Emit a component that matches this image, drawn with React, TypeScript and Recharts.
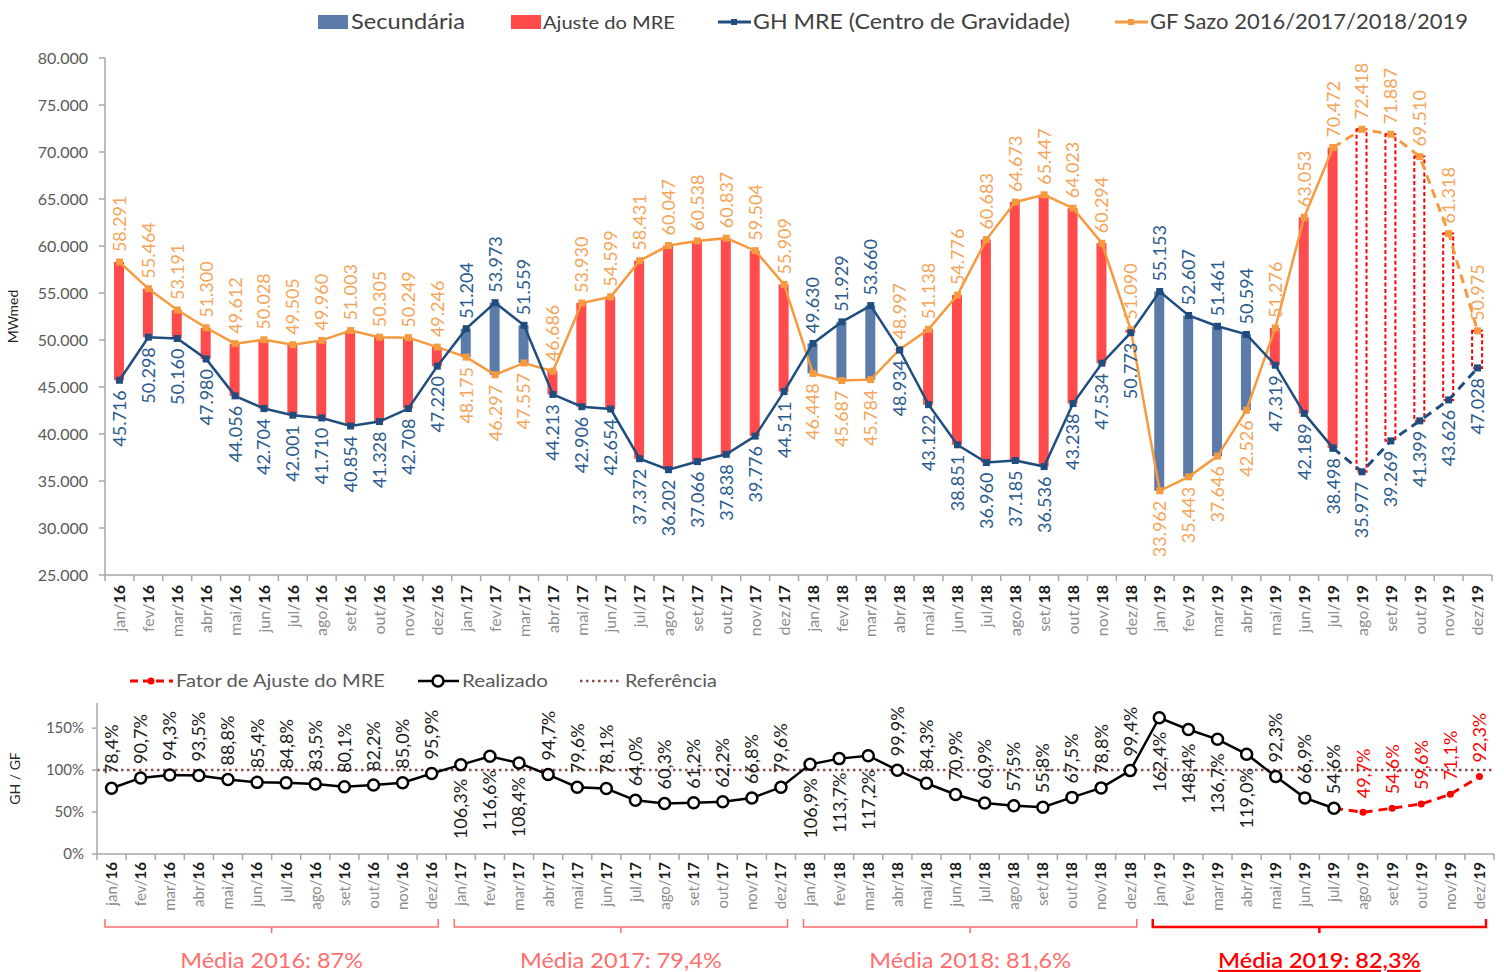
import React from 'react';
import { ComposedChart, Bar, Line, XAxis, YAxis, Cell, ReferenceLine } from 'recharts';

// ---------- DATA ----------
const monthNames = ['jan', 'fev', 'mar', 'abr', 'mai', 'jun', 'jul', 'ago', 'set', 'out', 'nov', 'dez'];
const yearShort = ['16', '17', '18', '19'];
const yearFull = ['2016', '2017', '2018', '2019'];
const yearMeans = ['87%', '79,4%', '81,6%', '82,3%'];

// GH MRE (Centro de Gravidade), MWmed
const ghMre = [
  45716, 50298, 50160, 47980, 44056, 42704, 42001, 41710, 40854, 41328, 42708, 47220,
  51204, 53973, 51559, 44213, 42906, 42654, 37372, 36202, 37066, 37838, 39776, 44511,
  49630, 51929, 53660, 48934, 43122, 38851, 36960, 37185, 36536, 43238, 47534, 50773,
  55153, 52607, 51461, 50594, 47319, 42189, 38498, 35977, 39269, 41399, 43626, 47028,
];
// GF Sazo 2016/2017/2018/2019, MWmed
const gfSazo = [
  58291, 55464, 53191, 51300, 49612, 50028, 49505, 49960, 51003, 50305, 50249, 49246,
  48175, 46297, 47557, 46686, 53930, 54599, 58431, 60047, 60538, 60837, 59504, 55909,
  46448, 45687, 45784, 48997, 51138, 54776, 60683, 64673, 65447, 64023, 60294, 51090,
  33962, 35443, 37646, 42526, 51276, 63053, 70472, 72418, 71887, 69510, 61318, 50975,
];
// Realizado GH/GF (%), jan/16 .. jul/19
const realizado = [
  78.4, 90.7, 94.3, 93.5, 88.8, 85.4, 84.8, 83.5, 80.1, 82.2, 85.0, 95.9,
  106.3, 116.6, 108.4, 94.7, 79.6, 78.1, 64.0, 60.3, 61.2, 62.2, 66.8, 79.6,
  106.9, 113.7, 117.2, 99.9, 84.3, 70.9, 60.9, 57.5, 55.8, 67.5, 78.8, 99.4,
  162.4, 148.4, 136.7, 119.0, 92.3, 66.9, 54.6,
];
// Fator de Ajuste do MRE (%), ago/19 .. dez/19
const fatorAjuste = [49.7, 54.6, 59.6, 71.1, 92.3];

const yTicksTop = [25000, 30000, 35000, 40000, 45000, 50000, 55000, 60000, 65000, 70000, 75000, 80000];
const yTicksBottom = [0, 50, 100, 150];

// ---------- STYLE ----------
const SEC = '#5b7ba8';
const AJ = '#ff4b4b';
const GH_C = '#1f4e7e';
const GH_L = '#2b5a8e';
const GF_C = '#f59a3e';
const GF_L = '#f5a55a';
const AXIS = '#a6a6a6';
const FONT = "Lato, 'Open Sans', sans-serif";

const FC_START = realizado.length; // index of ago/19

const fmtMW = (v: number) => `${Math.floor(v / 1000)}.${String(v % 1000).padStart(3, '0')}`;
const fmtPct = (v: number) => v.toFixed(1).replace('.', ',') + '%';

const topData = ghMre.map((gh, i) => {
  const gf = gfSazo[i];
  const fc = i >= FC_START;
  return {
    label: `${monthNames[i % 12]}/${yearShort[Math.floor(i / 12)]}`,
    range: [Math.min(gh, gf), Math.max(gh, gf)],
    kind: fc ? 'fc' : gh > gf ? 'sec' : 'aj',
    ghReal: i <= FC_START - 1 ? gh : null,
    ghFc: i >= FC_START - 1 ? gh : null,
    gfReal: i <= FC_START - 1 ? gf : null,
    gfFc: i >= FC_START - 1 ? gf : null,
  };
});

const bottomData = ghMre.map((_, i) => ({
  label: `${monthNames[i % 12]}/${yearShort[Math.floor(i / 12)]}`,
  year: yearFull[Math.floor(i / 12)],
  real: i < FC_START ? realizado[i] : null,
  fc: i >= FC_START ? fatorAjuste[i - FC_START] : i === FC_START - 1 ? realizado[i] : null,
}));

// ---------- RENDER HELPERS ----------
const makeMonthTick = (fontSize: number, lastIndex: number, textGap: number) => (p: any) => {
  const { x, y, payload, index } = p;
  const off = payload && payload.offset != null ? payload.offset : 14.5;
  const axisY = y - 8;
  const parts = String(payload.value).split('/');
  const ty = y + textGap;
  return (
    <g>
      <line x1={x - off} y1={axisY} x2={x - off} y2={axisY + 6} stroke={AXIS} strokeWidth={1.5} />
      {index === lastIndex && (
        <line x1={x + off} y1={axisY} x2={x + off} y2={axisY + 6} stroke={AXIS} strokeWidth={1.5} />
      )}
      <text
        x={x}
        y={ty}
        dy="0.36em"
        transform={`rotate(-90 ${x} ${ty})`}
        textAnchor="end"
        fontSize={fontSize}
        fill="#8c8c8c"
      >
        {parts[0] + '/'}
        <tspan fill="#1a1a1a" fontWeight={700}>{parts[1]}</tspan>
      </text>
    </g>
  );
};

const SquareDot = (color: string, size: number) => (p: any) => {
  const { cx, cy, value, index } = p;
  if (value == null || cx == null || cy == null) return <g key={`d${index}`} />;
  return <rect key={`d${index}`} x={cx - size / 2} y={cy - size / 2} width={size} height={size} fill={color} />;
};

const makeTopLabel = (self: number[], other: number[], color: string, skip: (i: number) => boolean) => (p: any) => {
  const { x, y, value, index } = p;
  if (value == null || x == null || y == null || skip(index)) return <g />;
  const above = self[index] >= other[index];
  const ay = above ? y - 10 : y + 10;
  return (
    <text
      x={x}
      y={ay}
      dy="0.36em"
      transform={`rotate(-90 ${x} ${ay})`}
      textAnchor={above ? 'start' : 'end'}
      fontSize={18}
      fill={color}
    >
      {fmtMW(value)}
    </text>
  );
};

const makePctLabel = (color: string, skip: (i: number) => boolean) => (p: any) => {
  const { x, y, value, index } = p;
  if (value == null || x == null || y == null || skip(index)) return <g />;
  const above = value <= 100;
  const ay = above ? y - 14 : y + 14;
  return (
    <text
      x={x}
      y={ay}
      dy="0.36em"
      transform={`rotate(-90 ${x} ${ay})`}
      textAnchor={above ? 'start' : 'end'}
      fontSize={18}
      fill={color}
    >
      {fmtPct(value)}
    </text>
  );
};

const YearTick = (p: any) => {
  const { x, y, payload } = p;
  const yi = yearFull.indexOf(String(payload.value));
  const half = payload && payload.offset != null ? payload.offset : 174;
  const is19 = yi === 3;
  const color = is19 ? '#ff0000' : '#ff6e6e';
  const x1 = x - half + 8;
  const x2 = x + half - 8;
  const by = y + 11;
  const ty = y + 52;
  return (
    <g>
      <path
        d={`M${x1} ${by - 8} L${x1} ${by} L${x2} ${by} L${x2} ${by - 8} M${x} ${by} L${x} ${by + 6}`}
        fill="none"
        stroke={color}
        strokeWidth={is19 ? 2.5 : 1.5}
      />
      <text
        x={x}
        y={ty}
        textAnchor="middle"
        fontSize={21}
        fill={color}
        textDecoration={is19 ? 'underline' : undefined}
        fontWeight={is19 ? 600 : 400}
        transform={`translate(${x} 0) scale(1.12 1) translate(${-x} 0)`}
      >
        {`Média ${payload.value}: ${yearMeans[yi]}`}
      </text>
    </g>
  );
};

const axisLabel = (text: string, dx: number) => (props: any) => {
  const vb = props.viewBox || { x: 0, y: 0, width: 0, height: 0 };
  const cx = vb.x + dx;
  const cy = vb.y + vb.height / 2;
  return (
    <text x={cx} y={cy} transform={`rotate(-90 ${cx} ${cy})`} textAnchor="middle" fontSize={14} fill="#262626">
      {text}
    </text>
  );
};

// ---------- APP ----------
export default function App() {
  const last = topData.length - 1;
  return (
    <div
      style={{
        position: 'absolute',
        left: 0,
        top: 0,
        width: 1504,
        height: 972,
        background: '#fff',
        fontFamily: FONT,
        overflow: 'hidden',
      }}
    >
      {/* Top legend */}
      <svg width={1504} height={45} style={{ position: 'absolute', left: 0, top: 0 }}>
        <rect x={318} y={15} width={30} height={14} fill={SEC} />
        <text x={351} y={29} fontSize={21} fill="#404040" textLength={114} lengthAdjust="spacingAndGlyphs">Secundária</text>
        <rect x={511} y={15} width={30} height={14} fill={AJ} />
        <text x={543} y={29} fontSize={17} fill="#404040" textLength={132} lengthAdjust="spacingAndGlyphs">Ajuste do MRE</text>
        <line x1={718} y1={22} x2={751} y2={22} stroke={GH_C} strokeWidth={3} />
        <rect x={731} y={19} width={6} height={6} fill={GH_C} />
        <text x={753} y={29} fontSize={21} fill="#404040" textLength={317} lengthAdjust="spacingAndGlyphs">GH MRE (Centro de Gravidade)</text>
        <line x1={1115} y1={22} x2={1148} y2={22} stroke={GF_C} strokeWidth={3} />
        <rect x={1128} y={19} width={6} height={6} fill={GF_C} />
        <text x={1150} y={29} fontSize={21} fill="#404040" textLength={318} lengthAdjust="spacingAndGlyphs">GF Sazo 2016/2017/2018/2019</text>
      </svg>

      {/* Top chart */}
      <div style={{ position: 'absolute', left: 0, top: 0 }}>
        <ComposedChart width={1504} height={650} data={topData} margin={{ top: 58, right: 12, left: 0, bottom: 0 }}>
          <XAxis
            dataKey="label"
            scale="band"
            interval={0}
            height={75}
            tickLine={false}
            tickSize={6}
            tickMargin={2}
            axisLine={{ stroke: AXIS, strokeWidth: 1.5 }}
            tick={makeMonthTick(16, last, 2)}
          />
          <YAxis
            domain={[25000, 80000]}
            ticks={yTicksTop}
            allowDataOverflow
            width={105}
            tickFormatter={fmtMW}
            tick={{ fill: '#595959', fontSize: 16 }}
            tickSize={6}
            tickMargin={11}
            axisLine={{ stroke: AXIS, strokeWidth: 1.5 }}
            tickLine={{ stroke: AXIS, strokeWidth: 1.5 }}
            label={{ content: axisLabel('MWmed', 18) }}
          />
          <Bar dataKey="range" barSize={10} isAnimationActive={false}>
            {topData.map((d, i) =>
              d.kind === 'fc' ? (
                <Cell key={i} fill="#ffffff" stroke="#ff0000" strokeWidth={2} strokeDasharray="4 2.5" />
              ) : (
                <Cell key={i} fill={d.kind === 'sec' ? SEC : AJ} />
              )
            )}
          </Bar>
          <Line
            dataKey="gfReal"
            stroke={GF_C}
            strokeWidth={2.5}
            dot={SquareDot(GF_C, 7)}
            activeDot={false}
            isAnimationActive={false}
            label={makeTopLabel(gfSazo, ghMre, GF_L, () => false)}
          />
          <Line
            dataKey="gfFc"
            stroke={GF_C}
            strokeWidth={3}
            strokeDasharray="9 6"
            dot={SquareDot(GF_C, 7)}
            activeDot={false}
            isAnimationActive={false}
            label={makeTopLabel(gfSazo, ghMre, GF_L, (i) => i < FC_START)}
          />
          <Line
            dataKey="ghReal"
            stroke={GH_C}
            strokeWidth={2.5}
            dot={SquareDot(GH_C, 7)}
            activeDot={false}
            isAnimationActive={false}
            label={makeTopLabel(ghMre, gfSazo, GH_L, () => false)}
          />
          <Line
            dataKey="ghFc"
            stroke={GH_C}
            strokeWidth={3}
            strokeDasharray="9 6"
            dot={SquareDot(GH_C, 7)}
            activeDot={false}
            isAnimationActive={false}
            label={makeTopLabel(ghMre, gfSazo, GH_L, (i) => i < FC_START)}
          />
        </ComposedChart>
      </div>

      {/* Bottom legend */}
      <svg width={760} height={34} style={{ position: 'absolute', left: 0, top: 665 }}>
        <line x1={130} y1={16} x2={173} y2={16} stroke="#ff0000" strokeWidth={3} strokeDasharray="8 5" />
        <circle cx={151} cy={16} r={3.5} fill="#ff0000" />
        <text x={176} y={22} fontSize={17} fill="#595959" textLength={209} lengthAdjust="spacingAndGlyphs">Fator de Ajuste do MRE</text>
        <line x1={418} y1={16} x2={459} y2={16} stroke="#000" strokeWidth={2.5} />
        <circle cx={438} cy={16} r={5.5} fill="#fff" stroke="#000" strokeWidth={2.5} />
        <text x={462} y={22} fontSize={17} fill="#595959" textLength={86} lengthAdjust="spacingAndGlyphs">Realizado</text>
        <line x1={580} y1={16} x2={621} y2={16} stroke="#8e4b4b" strokeWidth={2.5} strokeDasharray="2.5 3.5" />
        <text x={625} y={22} fontSize={17} fill="#595959" textLength={92} lengthAdjust="spacingAndGlyphs">Referência</text>
      </svg>

      {/* Bottom chart */}
      <div style={{ position: 'absolute', left: 0, top: 690 }}>
        <ComposedChart width={1504} height={282} data={bottomData} margin={{ top: 13, right: 10, left: 0, bottom: 0 }}>
          <XAxis
            xAxisId="m"
            dataKey="label"
            scale="band"
            interval={0}
            height={62}
            tickLine={false}
            tickSize={6}
            tickMargin={2}
            axisLine={{ stroke: AXIS, strokeWidth: 1.5 }}
            tick={makeMonthTick(15, last, 0)}
          />
          <XAxis
            xAxisId="y"
            dataKey="year"
            scale="band"
            allowDuplicatedCategory={false}
            ticks={yearFull}
            interval={0}
            height={56}
            tickLine={false}
            tickSize={0}
            tickMargin={0}
            axisLine={false}
            tick={YearTick}
          />
          <YAxis
            domain={[0, 180]}
            ticks={yTicksBottom}
            allowDataOverflow
            width={97}
            tickFormatter={(v: number) => `${v}%`}
            tick={{ fill: '#595959', fontSize: 15 }}
            tickSize={5}
            tickMargin={8}
            axisLine={{ stroke: AXIS, strokeWidth: 1.5 }}
            tickLine={{ stroke: AXIS, strokeWidth: 1.5 }}
            label={{ content: axisLabel('GH / GF', 20) }}
          />
          <ReferenceLine
            xAxisId="m"
            y={100}
            stroke="#8e4b4b"
            strokeWidth={2.5}
            strokeDasharray="2.5 3.5"
            ifOverflow="extendDomain"
          />
          <Line
            xAxisId="m"
            dataKey="fc"
            stroke="#ff0000"
            strokeWidth={3}
            strokeDasharray="9 6"
            dot={(p: any) =>
              p.value == null || p.index < FC_START ? (
                <g key={`f${p.index}`} />
              ) : (
                <circle key={`f${p.index}`} cx={p.cx} cy={p.cy} r={3.5} fill="#ff0000" />
              )
            }
            activeDot={false}
            isAnimationActive={false}
            label={makePctLabel('#ff0000', (i) => i < FC_START)}
          />
          <Line
            xAxisId="m"
            dataKey="real"
            stroke="#000"
            strokeWidth={2.5}
            dot={{ r: 5.5, fill: '#fff', stroke: '#000', strokeWidth: 2.5 }}
            activeDot={false}
            isAnimationActive={false}
            label={makePctLabel('#1a1a1a', () => false)}
          />
        </ComposedChart>
      </div>
    </div>
  );
}
